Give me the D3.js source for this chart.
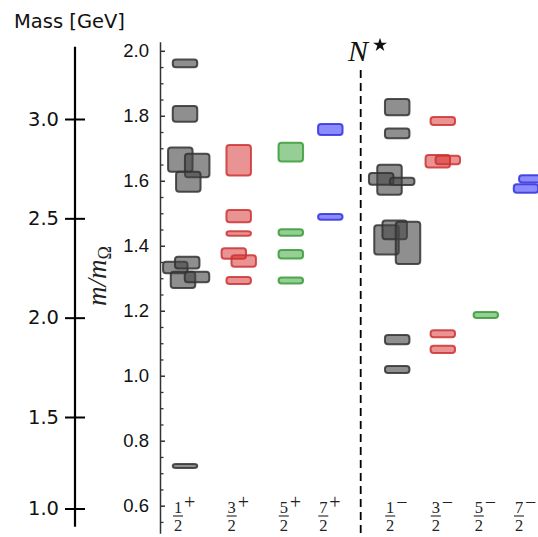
<!DOCTYPE html>
<html>
<head>
<meta charset="utf-8">
<script src="https://cdn.jsdelivr.net/npm/d3@7"></script>
<style>
  body { margin: 0; background: #fff; }
  svg { display: block; }
</style>
</head>
<body>
<div id="chart"></div>
<script>
// spin-parity channels (numerator, parity)
const channels = ['1/2+', '3/2+', '5/2+', '7/2+', '1/2-', '3/2-', '5/2-', '7/2-']

// m / m_Omega levels and their half-heights (statistical error), per channel
const massP12 = [1.961, 1.806, 1.665, 1.647, 1.597, 1.333, 1.348, 1.295, 1.304, 0.722]
const errP12  = [0.012, 0.024, 0.037, 0.036, 0.031, 0.018, 0.018, 0.025, 0.016, 0.006]
const massP32 = [1.663, 1.491, 1.438, 1.376, 1.353, 1.293]
const errP32  = [0.047, 0.019, 0.007, 0.016, 0.018, 0.011]
const massP52 = [1.688, 1.441, 1.374, 1.293]
const errP52  = [0.029, 0.010, 0.013, 0.009]
const massP72 = [1.758, 1.489]
const errP72  = [0.017, 0.009]
const massM12 = [1.827, 1.746, 1.603, 1.606, 1.598, 1.418, 1.449, 1.409, 1.111, 1.019]
const errM12  = [0.025, 0.015, 0.046, 0.018, 0.011, 0.045, 0.029, 0.065, 0.014, 0.011]
const massM32 = [1.784, 1.660, 1.664, 1.129, 1.081]
const errM32  = [0.012, 0.019, 0.013, 0.011, 0.011]
const massM52 = [1.187]
const errM52  = [0.009]
const massM72 = [1.606, 1.576]
const errM72  = [0.011, 0.013]

// tick labels
const ratioTicks = [0.6, 0.8, 1.0, 1.2, 1.4, 1.6, 1.8, 2.0]
const massTicks = [1.0, 1.5, 2.0, 2.5, 3.0]

// horizontal nudges so overlapping levels stay visible (px)
const nudge = {
  '1/2+': [0, 0, -4.7, 12.2, 3.3, -9.7, 2.2, -2, 12, 0],
  '3/2+': [0, 0, 0, -4.9, 5, 0],
  '5/2+': [0, 0, 0, 0],
  '7/2+': [0, 0],
  '1/2-': [0, 0, -7.7, -16, 5, -10.7, -2.5, 10.8, 0, 0],
  '3/2-': [0, -5, 5, 0, 0],
  '5/2-': [0],
  '7/2-': [5.3, 0]
}

const series = [
  [massP12, errP12], [massP32, errP32], [massP52, errP52], [massP72, errP72],
  [massM12, errM12], [massM32, errM32], [massM52, errM52], [massM72, errM72]
]

const levels = []
series.forEach(([m, e], c) => {
  m.forEach((v, i) => levels.push({ ch: channels[c], m: v, err: e[i], dx: nudge[channels[c]][i] }))
})

const width = 538, height = 537
const boxW = 24.5

const colors = {
  1: { fill: '#444444', stroke: '#333333', op: 0.6 },
  3: { fill: '#d62728', stroke: '#cc3333', op: 0.5 },
  5: { fill: '#2ca02c', stroke: '#3a9a3a', op: 0.5 },
  7: { fill: '#1a1aff', stroke: '#3333dd', op: 0.5 }
}

const svg = d3.select('#chart')
  .append('svg')
    .attr('width', width)
    .attr('height', height)

const y = d3.scaleLinear()
  .domain([0.515, 2.028])
  .range([533.3, 41.7])

const massY = d3.scaleLinear()
  .domain([1.0, 1.5, 3.0])
  .range([508.5, 417, 119])

const x = d3.scaleOrdinal()
  .domain(channels)
  .range([185, 238.7, 290.8, 330.3, 397.2, 442.8, 485.8, 526])

// left: physical mass axis
svg.append('text')
  .attr('x', 14)
  .attr('y', 28)
  .attr('font-family', 'DejaVu Sans')
  .attr('font-size', 19.5)
  .attr('fill', '#111')
  .text('Mass [GeV]')

const massAxis = svg.append('g')
  .attr('transform', 'translate(75,0)')
  .call(d3.axisLeft(massY)
    .tickValues(massTicks)
    .tickFormat(d3.format('.1f'))
    .tickSize(10)
    .tickPadding(6))
massAxis.select('.domain').remove()
massAxis.selectAll('.tick line')
  .attr('x1', -10).attr('x2', 10)
  .attr('stroke', '#000').attr('stroke-width', 2)
massAxis.selectAll('.tick text')
  .attr('font-family', 'DejaVu Sans')
  .attr('font-size', 19.5)
  .attr('fill', '#111')
massAxis.append('line')
  .attr('y1', 46.7).attr('y2', 526.7)
  .attr('stroke', '#000').attr('stroke-width', 2.2)

// right: ratio axis
const ratioAxis = svg.append('g')
  .attr('transform', 'translate(160,0)')
  .call(d3.axisLeft(y)
    .tickValues(ratioTicks)
    .tickFormat(d3.format('.1f'))
    .tickSizeInner(-5)
    .tickSizeOuter(0)
    .tickPadding(11))
ratioAxis.select('.domain').attr('stroke', '#333').attr('stroke-width', 1.5)
ratioAxis.selectAll('.tick line').attr('stroke', '#333').attr('stroke-width', 1.5)
ratioAxis.selectAll('.tick text')
  .attr('font-family', 'Liberation Sans')
  .attr('font-size', 18.5)
  .attr('fill', '#111')

const minor = d3.range(0.55, 2.001, 0.05).filter(v => !ratioTicks.some(t => Math.abs(t - v) < 1e-6))
svg.append('g')
  .attr('transform', 'translate(160,0)')
  .call(d3.axisLeft(y).tickValues(minor).tickFormat('').tickSizeInner(-3.5).tickSizeOuter(0))
  .call(g => g.select('.domain').remove())
  .selectAll('.tick line').attr('stroke', '#333').attr('stroke-width', 1.3)

// y label m/m_Omega
const yl = svg.append('text')
  .attr('transform', 'translate(106,276) rotate(-90)')
  .attr('text-anchor', 'middle')
  .attr('font-family', 'Liberation Serif')
  .attr('font-style', 'italic')
  .attr('font-size', 27)
  .attr('fill', '#222')
yl.append('tspan').text('m/m')
yl.append('tspan').attr('font-size', 18).attr('dy', 5).attr('font-style', 'normal').text('Ω')

// separator and N* label
svg.append('line')
  .attr('x1', 360.7).attr('x2', 360.7)
  .attr('y1', 70).attr('y2', 533)
  .attr('stroke', '#000')
  .attr('stroke-width', 1.8)
  .attr('stroke-dasharray', '8,5')

svg.append('text')
  .attr('x', 348)
  .attr('y', 61)
  .attr('font-family', 'Liberation Serif')
  .attr('font-style', 'italic')
  .attr('font-size', 30)
  .attr('fill', '#111')
  .text('N')
svg.append('path')
  .attr('d', d3.symbol(d3.symbolStar, 60)())
  .attr('transform', 'translate(380,45)')
  .attr('fill', '#111')

// energy levels
svg.append('g')
  .selectAll('rect')
  .data(levels)
  .enter()
  .append('rect')
    .attr('x', d => x(d.ch) + d.dx - boxW / 2)
    .attr('y', d => y(d.m + d.err))
    .attr('width', boxW)
    .attr('height', d => Math.max(y(d.m - d.err) - y(d.m + d.err), 1))
    .attr('rx', 3)
    .attr('fill', d => colors[d.ch[0]].fill)
    .attr('fill-opacity', d => colors[d.ch[0]].op)
    .attr('stroke', d => colors[d.ch[0]].stroke)
    .attr('stroke-opacity', 0.85)
    .attr('stroke-width', 2)

// channel labels J^P as stacked fractions
const lab = svg.append('g')
  .attr('font-family', 'Liberation Serif')
  .attr('fill', '#222')
  .selectAll('g')
  .data(channels)
  .enter()
  .append('g')
    .attr('transform', d => `translate(${x(d) - 7},0)`)

lab.append('text')
  .attr('text-anchor', 'middle')
  .attr('y', 512.5)
  .attr('font-size', 16.5)
  .text(d => d.split('/')[0])
lab.append('line')
  .attr('x1', -5).attr('x2', 5)
  .attr('y1', 516).attr('y2', 516)
  .attr('stroke', '#222').attr('stroke-width', 1.1)
lab.append('text')
  .attr('text-anchor', 'middle')
  .attr('y', 531)
  .attr('font-size', 16.5)
  .text(d => d.split('/')[1][0])
lab.append('text')
  .attr('x', 6)
  .attr('y', 509)
  .attr('font-size', 20)
  .text(d => d.slice(-1) === '+' ? '+' : '−')
</script>
</body>
</html>
